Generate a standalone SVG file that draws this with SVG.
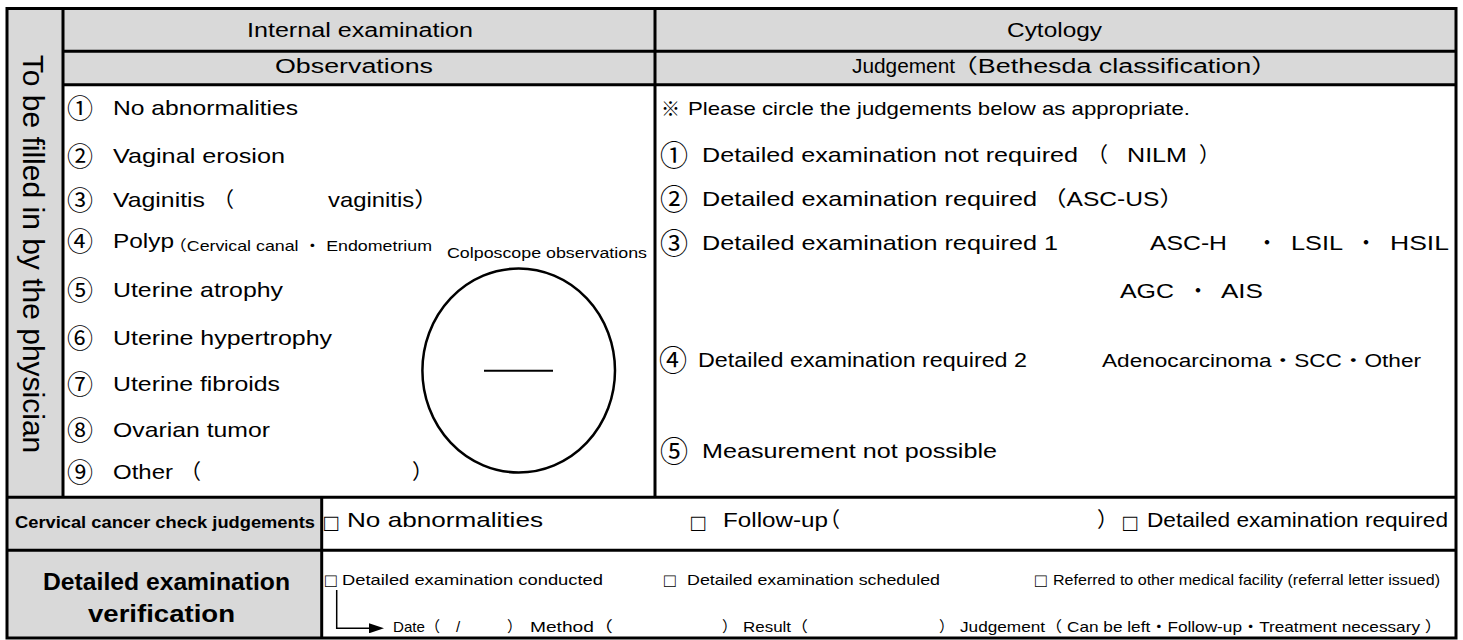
<svg xmlns="http://www.w3.org/2000/svg" width="1463" height="640" viewBox="0 0 1463 640">
<style>
text{font-family:"Liberation Sans","Noto Sans CJK JP",sans-serif;fill:#000}
.h{font-size:20px}
.l{font-size:21px}
.m{font-size:15px}
.b{font-weight:bold}
.cn{font-size:26px}
.cr{font-size:28px}
.bx{font-size:24px}
.bs{font-size:19px}
.ln{stroke:#000;stroke-width:3;fill:none}
.g{fill:#d9d9d9}
</style>
<defs>
<marker id="ah" markerUnits="userSpaceOnUse" markerWidth="15" markerHeight="10" refX="0" refY="5" orient="auto">
<path d="M0,0 L15,5 L0,10 Z" fill="#000"/>
</marker>
</defs>
<g id="background">
<rect x="0" y="0" width="1463" height="640" fill="#fff"/>
<rect class="g" x="7" y="8.5" width="56" height="489"/>
<rect class="g" x="63" y="8.5" width="1393" height="76"/>
<rect class="g" x="7" y="497" width="315" height="141"/>
</g>
<g id="grid">
<rect class="ln" x="7" y="8.5" width="1449" height="629.5"/>
<line class="ln" x1="63" y1="8.5" x2="63" y2="497"/>
<line class="ln" x1="655" y1="8.5" x2="655" y2="497"/>
<line class="ln" x1="63" y1="51.3" x2="1456" y2="51.3"/>
<line class="ln" x1="63" y1="84.7" x2="1456" y2="84.7"/>
<line class="ln" x1="7" y1="497.3" x2="1456" y2="497.3"/>
<line class="ln" x1="7" y1="550.3" x2="1456" y2="550.3"/>
<line class="ln" x1="321.7" y1="497" x2="321.7" y2="638"/>
</g>
<g id="side-label">
<text transform="translate(23,254) rotate(90)" text-anchor="middle" style="font-size:30px">To be filled in by the physician</text>
</g>
<g id="headers">
<text class="h" x="247" y="37" textLength="226" lengthAdjust="spacingAndGlyphs">Internal examination</text>
<text class="h" x="1007" y="37" textLength="95" lengthAdjust="spacingAndGlyphs">Cytology</text>
<text class="h" x="275" y="73" textLength="158" lengthAdjust="spacingAndGlyphs">Observations</text>
<text class="h" x="852" y="73" textLength="103" lengthAdjust="spacingAndGlyphs">Judgement</text>
<text class="h" x="951" y="73" textLength="327" lengthAdjust="spacingAndGlyphs">（Bethesda classification）</text>
</g>
<g id="observations">
<text class="cn" x="67" y="118">①</text>
<text class="l" x="113" y="115" textLength="185" lengthAdjust="spacingAndGlyphs">No abnormalities</text>
<text class="cn" x="67" y="166">②</text>
<text class="l" x="113" y="163" textLength="172" lengthAdjust="spacingAndGlyphs">Vaginal erosion</text>
<text class="cn" x="67" y="210">③</text>
<text class="l" x="113" y="207" textLength="92" lengthAdjust="spacingAndGlyphs">Vaginitis</text>
<text class="l" x="213" y="207">（</text>
<text class="l" x="328" y="207" textLength="110" lengthAdjust="spacingAndGlyphs">vaginitis）</text>
<text class="cn" x="67" y="251">④</text>
<text class="l" x="113" y="248" textLength="61" lengthAdjust="spacingAndGlyphs">Polyp</text>
<text class="m" x="169" y="251" textLength="263" lengthAdjust="spacingAndGlyphs">（Cervical canal ・ Endometrium</text>
<text class="cn" x="67" y="300">⑤</text>
<text class="l" x="113" y="297" textLength="170" lengthAdjust="spacingAndGlyphs">Uterine atrophy</text>
<text class="cn" x="67" y="348">⑥</text>
<text class="l" x="113" y="345" textLength="219" lengthAdjust="spacingAndGlyphs">Uterine hypertrophy</text>
<text class="cn" x="67" y="394">⑦</text>
<text class="l" x="113" y="391" textLength="167" lengthAdjust="spacingAndGlyphs">Uterine fibroids</text>
<text class="cn" x="67" y="440">⑧</text>
<text class="l" x="113" y="437" textLength="157" lengthAdjust="spacingAndGlyphs">Ovarian tumor</text>
<text class="cn" x="67" y="482">⑨</text>
<text class="l" x="113" y="479" textLength="60" lengthAdjust="spacingAndGlyphs">Other</text>
<text class="l" x="180" y="479">（</text>
<text class="l" x="412" y="479">）</text>
</g>
<g id="colposcope">
<text x="447" y="258" style="font-size:15.5px" textLength="200" lengthAdjust="spacingAndGlyphs">Colposcope observations</text>
<ellipse cx="518.7" cy="370.5" rx="96.3" ry="102" fill="none" stroke="#000" stroke-width="2.5"/>
<line x1="484" y1="370.7" x2="553" y2="370.7" stroke="#000" stroke-width="2"/>
</g>
<g id="cytology">
<text x="661" y="116" style="font-size:19px">※</text>
<text x="688" y="115" style="font-size:19px" textLength="502" lengthAdjust="spacingAndGlyphs">Please circle the judgements below as appropriate.</text>
<text class="cr" x="660" y="166">①</text>
<text class="l" x="702" y="162" textLength="376" lengthAdjust="spacingAndGlyphs">Detailed examination not required</text>
<text class="l" x="1087" y="162">（</text>
<text class="l" x="1127" y="162" textLength="60" lengthAdjust="spacingAndGlyphs">NILM</text>
<text class="l" x="1199" y="162">）</text>
<text class="cr" x="660" y="210">②</text>
<text class="l" x="702" y="206" textLength="335" lengthAdjust="spacingAndGlyphs">Detailed examination required</text>
<text class="l" x="1042" y="206" textLength="142" lengthAdjust="spacingAndGlyphs">（ASC-US）</text>
<text class="cr" x="660" y="254">③</text>
<text class="l" x="702" y="250" textLength="356" lengthAdjust="spacingAndGlyphs">Detailed examination required 1</text>
<text class="l" x="1150" y="250" textLength="77" lengthAdjust="spacingAndGlyphs">ASC-H</text>
<text class="l" x="1267" y="250" text-anchor="middle">・</text>
<text class="l" x="1291" y="250" textLength="52" lengthAdjust="spacingAndGlyphs">LSIL</text>
<text class="l" x="1366" y="250" text-anchor="middle">・</text>
<text class="l" x="1390" y="250" textLength="59" lengthAdjust="spacingAndGlyphs">HSIL</text>
<text class="l" x="1120" y="298" textLength="54" lengthAdjust="spacingAndGlyphs">AGC</text>
<text class="l" x="1198" y="298" text-anchor="middle">・</text>
<text class="l" x="1221" y="298" textLength="42" lengthAdjust="spacingAndGlyphs">AIS</text>
<text class="cr" x="659" y="371">④</text>
<text x="698" y="367" style="font-size:20px" textLength="329" lengthAdjust="spacingAndGlyphs">Detailed examination required 2</text>
<text x="1102" y="367" style="font-size:18px" textLength="319" lengthAdjust="spacingAndGlyphs">Adenocarcinoma・SCC・Other</text>
<text class="cr" x="660" y="462">⑤</text>
<text class="l" x="702" y="458" textLength="295" lengthAdjust="spacingAndGlyphs">Measurement not possible</text>
</g>
<g id="check-judgements">
<text class="b" x="15" y="528" style="font-size:16px" textLength="300" lengthAdjust="spacingAndGlyphs">Cervical cancer check judgements</text>
<text class="bx" x="324" y="531">□</text>
<text class="l" x="347" y="527" textLength="196" lengthAdjust="spacingAndGlyphs">No abnormalities</text>
<text class="bx" x="691" y="531">□</text>
<text class="l" x="723" y="527" textLength="105" lengthAdjust="spacingAndGlyphs">Follow-up</text>
<text class="l" x="819" y="527">（</text>
<text class="l" x="1097" y="527">）</text>
<text class="bx" x="1123" y="531">□</text>
<text class="l" x="1147" y="527" textLength="301" lengthAdjust="spacingAndGlyphs">Detailed examination required</text>
</g>
<g id="verification">
<text class="b" x="43" y="590" style="font-size:24.5px" textLength="247" lengthAdjust="spacingAndGlyphs">Detailed examination</text>
<text class="b" x="88" y="622" style="font-size:24.5px" textLength="147" lengthAdjust="spacingAndGlyphs">verification</text>
<text class="bs" x="325" y="587">□</text>
<text class="m" x="342" y="585" textLength="261" lengthAdjust="spacingAndGlyphs">Detailed examination conducted</text>
<text class="bs" x="664" y="587">□</text>
<text class="m" x="687" y="585" textLength="253" lengthAdjust="spacingAndGlyphs">Detailed examination scheduled</text>
<text class="bs" x="1035" y="587">□</text>
<text class="m" x="1053" y="585" textLength="387" lengthAdjust="spacingAndGlyphs">Referred to other medical facility (referral letter issued)</text>
<text class="m" x="393" y="632" textLength="47" lengthAdjust="spacingAndGlyphs">Date（</text>
<text class="m" x="456" y="632">/</text>
<text class="m" x="507" y="632">）</text>
<text class="m" x="530" y="632" textLength="83" lengthAdjust="spacingAndGlyphs">Method（</text>
<text class="m" x="722" y="632">）</text>
<text class="m" x="743" y="632" textLength="65" lengthAdjust="spacingAndGlyphs">Result（</text>
<text class="m" x="939" y="632">）</text>
<text class="m" x="960" y="632" textLength="482" lengthAdjust="spacingAndGlyphs">Judgement（ Can be left・Follow-up・Treatment necessary ）</text>
</g>
<g id="connectors">
<path d="M336.7,590 V628.3 H369" fill="none" stroke="#000" stroke-width="1.5" marker-end="url(#ah)"/>
</g>
</svg>
